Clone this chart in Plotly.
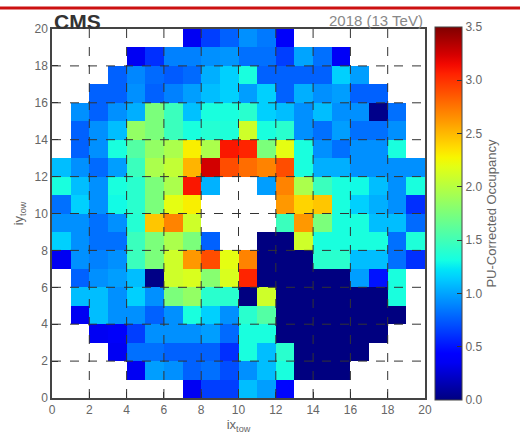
import plotly.graph_objects as go

N = None
# PU-corrected occupancy, rows listed from iy=19 (top) down to iy=0 (bottom); columns ix=0..19
row_iy19 = [N, N, N, N, N, N, N, 0.35, 0.65, 0.77, 0.93, 0.85, 0.40, N, N, N, N, N, N, N]
row_iy18 = [N, N, N, N, 0.35, 0.60, 0.88, 0.88, 0.93, 0.95, 0.82, 0.82, 0.65, 1.00, 0.82, 0.38, N, N, N, N]
row_iy17 = [N, N, N, 0.77, 0.90, 0.80, 0.75, 0.80, 1.04, 1.15, 1.33, 0.77, 0.77, 0.77, 0.77, 1.15, 0.98, N, N, N]
row_iy16 = [N, N, 0.77, 0.77, 0.93, 0.77, 0.88, 0.98, 1.09, 1.15, 0.98, 1.15, 0.77, 1.04, 0.93, 0.98, 0.77, 0.77, N, N]
row_iy15 = [N, 0.93, 0.77, 0.93, 1.04, 1.75, 1.47, 1.10, 1.33, 1.33, 1.40, 1.15, 1.09, 0.93, 1.09, 0.93, 0.93, 0.03, 0.82, N]
row_iy14 = [N, 0.77, 0.93, 1.09, 1.85, 1.75, 1.47, 1.33, 1.38, 1.35, 2.10, 1.33, 1.40, 0.93, 0.82, 0.98, 0.82, 0.82, 0.93, N]
row_iy13 = [N, 0.77, 0.93, 1.33, 1.58, 1.85, 1.95, 2.30, 1.95, 3.10, 3.05, 1.75, 2.20, 1.33, 0.93, 0.82, 0.93, 0.93, 1.33, N]
row_iy12 = [1.09, 0.93, 0.80, 0.98, 1.47, 1.95, 2.05, 2.52, 3.25, 2.90, 2.78, 2.70, 2.90, 1.33, 1.04, 1.04, 0.93, 0.93, 0.93, 0.93]
row_iy11 = [1.33, 1.09, 0.93, 1.33, 1.40, 1.75, 1.95, 3.10, 1.05, N, N, 0.98, 2.70, 1.95, 1.47, 1.33, 1.30, 1.09, 0.93, 1.33]
row_iy10 = [0.82, 1.15, 0.93, 1.30, 1.40, 1.75, 2.20, 2.30, N, N, N, N, 2.62, 2.40, 2.45, 1.33, 1.15, 1.04, 0.93, 0.60]
row_iy9 = [0.93, 0.93, 0.82, 0.93, 1.38, 2.45, 2.70, 2.10, N, N, N, N, 1.47, 2.62, 1.75, 1.33, 1.33, 1.09, 1.09, 0.80]
row_iy8 = [1.15, 0.93, 0.82, 0.82, 1.47, 1.75, 1.95, 1.75, 0.77, N, N, 0.0, 0.0, 2.10, 1.33, 1.33, 1.33, 1.33, 0.82, 1.35]
row_iy7 = [0.35, 0.93, 0.88, 0.93, 1.47, 1.75, 2.10, 2.62, 2.90, 2.20, 2.70, 0.0, 0.0, 0.0, 1.40, 1.40, 1.09, 1.09, 0.82, 0.60]
row_iy6 = [N, 0.77, 0.93, 0.98, 1.09, 0.02, 2.10, 2.15, 1.80, 2.15, 3.05, 0.0, 0.0, 0.0, 0.0, 0.0, 0.98, 0.50, 1.33, N]
row_iy5 = [N, 1.09, 1.09, 0.93, 1.15, 0.93, 1.75, 1.85, 1.40, 1.40, 0.0, 2.10, 0.0, 0.0, 0.0, 0.0, 0.0, 0.0, 1.33, N]
row_iy4 = [N, 0.35, 1.09, 0.93, 0.93, 0.77, 0.93, 1.33, 1.15, 0.93, 1.40, 1.58, 0.0, 0.0, 0.0, 0.0, 0.0, 0.0, 0.0, N]
row_iy3 = [N, N, 0.35, 0.40, 0.65, 0.93, 0.93, 0.93, 0.98, 0.80, 1.33, 1.33, 0.0, 0.0, 0.0, 0.0, 0.0, 0.0, N, N]
row_iy2 = [N, N, N, 0.35, 0.82, 0.82, 0.77, 0.77, 0.77, 0.60, 1.33, 1.09, 1.40, 0.0, 0.0, 0.0, 0.0, N, N, N]
row_iy1 = [N, N, N, N, 0.35, 0.98, 0.93, 0.77, 0.82, 0.70, 0.93, 1.09, 1.33, 0.0, 0.0, 0.0, N, N, N, N]
row_iy0 = [N, N, N, N, N, N, N, 0.35, 0.65, 0.65, 1.09, 0.98, 0.45, N, N, N, N, N, N, N]

rows_top_to_bottom = [row_iy19, row_iy18, row_iy17, row_iy16, row_iy15, row_iy14, row_iy13,
                      row_iy12, row_iy11, row_iy10, row_iy9, row_iy8, row_iy7, row_iy6,
                      row_iy5, row_iy4, row_iy3, row_iy2, row_iy1, row_iy0]
z = rows_top_to_bottom[::-1]

ix_edges = list(range(0, 21))
iy_edges = list(range(0, 21))
tick_vals = list(range(0, 21, 2))
cbar_ticks = [0.0, 0.5, 1.0, 1.5, 2.0, 2.5, 3.0, 3.5]


# jet-like palette
def _interp(pts, t):
    for (t0, v0), (t1, v1) in zip(pts[:-1], pts[1:]):
        if t0 <= t <= t1:
            return v0 + (v1 - v0) * (t - t0) / (t1 - t0) if t1 > t0 else v1
    return pts[-1][1]


R = [(0, 0), (0.35, 0), (0.66, 1), (0.89, 1), (1, 0.5)]
G = [(0, 0), (0.125, 0), (0.375, 1), (0.64, 1), (0.91, 0), (1, 0)]
B = [(0, 0.5), (0.11, 1), (0.34, 1), (0.65, 0), (1, 0)]
stops = [i / 40 for i in range(41)]
colorscale = [[t, "rgb(%d,%d,%d)" % (round(255 * _interp(R, t)), round(255 * _interp(G, t)), round(255 * _interp(B, t)))] for t in stops]

FONT = "Liberation Sans, Arial"
fig = go.Figure(go.Heatmap(
    z=z, x=ix_edges, y=iy_edges, zmin=0, zmax=3.5, colorscale=colorscale,
    hoverongaps=False,
    colorbar=dict(
        x=1.027, xanchor="left", xref="paper", y=0.5, yanchor="middle",
        thickness=27, len=373, lenmode="pixels", xpad=0, ypad=0,
        tickvals=cbar_ticks, tickformat=".1f", ticks="inside", ticklen=5,
        tickcolor="#333", outlinecolor="#444", outlinewidth=1,
        tickfont=dict(family=FONT, size=12, color="#666"),
        title=dict(text="PU-Corrected Occupancy", side="right",
                   font=dict(family=FONT, size=13, color="#666")),
    ),
))

axis_common = dict(
    range=[0, 20], tickvals=tick_vals, ticks="inside", ticklen=6, tickcolor="#333",
    showline=True, linecolor="#444", linewidth=1.5, mirror=True, showgrid=False, zeroline=False,
    tickfont=dict(family=FONT, size=12, color="#666"),
)
fig.update_xaxes(**axis_common, title=dict(text="ix<sub>tow</sub>", standoff=4,
                 font=dict(family=FONT, size=13, color="#666")))
fig.update_yaxes(**axis_common, title=dict(text="iy<sub>tow</sub>", standoff=8,
                 font=dict(family=FONT, size=13, color="#666")))

shapes = []
for v in tick_vals[1:-1]:
    shapes.append(dict(type="line", xref="x", yref="paper", x0=v, x1=v, y0=0, y1=1,
                       line=dict(color="#333", width=1, dash="dash"), layer="above"))
    shapes.append(dict(type="line", xref="paper", yref="y", x0=0, x1=1, y0=v, y1=v,
                       line=dict(color="#333", width=1, dash="dash"), layer="above"))
# red rule across the top of the slide
shapes.append(dict(type="line", xref="paper", yref="paper", x0=-0.2, x1=1.3, y0=1.057, y1=1.057,
                   line=dict(color="#cc1111", width=3), layer="above"))

fig.update_layout(
    width=520, height=441, margin=dict(l=52, r=95, t=29, b=43),
    paper_bgcolor="white", plot_bgcolor="white", shapes=shapes,
    annotations=[
        dict(text="<b>CMS</b>", xref="paper", yref="paper", x=0.0, y=0.985, xanchor="left",
             yanchor="bottom", showarrow=False, font=dict(family=FONT, size=21, color="#333")),
        dict(text="2018 (13 TeV)", xref="paper", yref="paper", x=1.0, y=0.995, xanchor="right",
             yanchor="bottom", showarrow=False, font=dict(family=FONT, size=15, color="#888")),
    ],
)

fig.write_html("out.html")
